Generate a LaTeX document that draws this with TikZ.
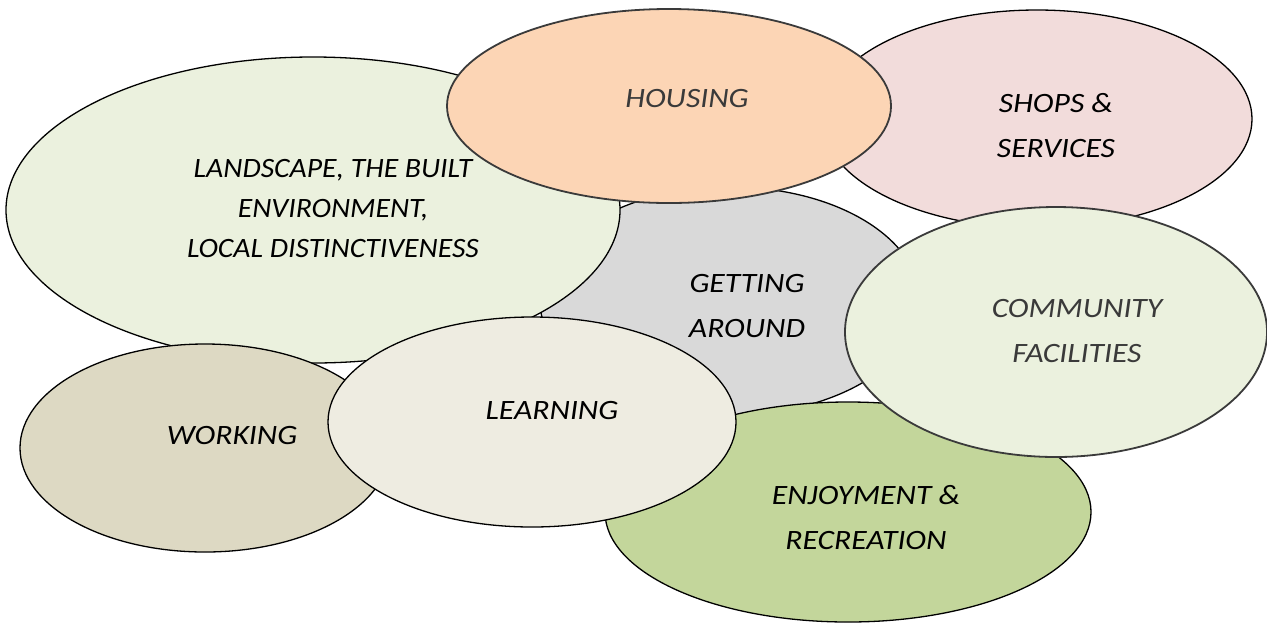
\documentclass[tikz,border=0pt]{standalone}
\usepackage{fontspec}
\setmainfont{Carlito}
\usetikzlibrary{shapes.geometric}
\definecolor{cLand}{HTML}{EBF1DE}
\definecolor{cHouse}{HTML}{FCD5B5}
\definecolor{cShop}{HTML}{F2DCDB}
\definecolor{cGet}{HTML}{D9D9D9}
\definecolor{cComm}{HTML}{EBF1DE}
\definecolor{cWork}{HTML}{DDD9C3}
\definecolor{cLearn}{HTML}{EEECE1}
\definecolor{cEnjoy}{HTML}{C3D69B}
\definecolor{cSoft}{HTML}{3A3A3A}
\newcommand\widetxt[1]{\scalebox{1.13}[1]{#1}}
\newcommand\widelnd[1]{\scalebox{1.06}[1]{#1}}
\tikzset{
  blob/.style={ellipse, draw=black, line width=0.65pt, inner sep=0pt, outer sep=0pt},
  softblob/.style={ellipse, draw=cSoft, line width=0.9pt, inner sep=0pt, outer sep=0pt},
  lbl/.style={align=center, inner sep=0pt, font=\fontsize{14}{22.5}\selectfont\itshape, text=black},
  softlbl/.style={lbl, text=cSoft},
}
\begin{document}
\begin{tikzpicture}[x=0.5pt, y=-0.5pt]
\useasboundingbox (0,0) rectangle (1267,622);
% ellipses, back to front (width in pt = rx, height in pt = ry since 1px = 0.5pt)
\node[blob, fill=cGet, minimum width=190pt, minimum height=114pt] (get) at (730,301) {};
\node[blob, fill=cLand, minimum width=307pt, minimum height=153pt] (land) at (313,210) {};
\node[blob, fill=cWork, minimum width=185pt, minimum height=104pt] (work) at (205,448) {};
\node[blob, fill=cEnjoy, minimum width=243pt, minimum height=110pt] (enjoy) at (848,512) {};
\node[blob, fill=cShop, minimum width=215pt, minimum height=109pt] (shop) at (1037,119) {};
\node[softblob, fill=cHouse, minimum width=222pt, minimum height=97pt] (house) at (669,106) {};
\node[blob, fill=cLearn, minimum width=204pt, minimum height=105pt] (learn) at (532,422) {};
\node[softblob, fill=cComm, minimum width=211pt, minimum height=125pt] (comm) at (1056,332) {};
% labels
\node[lbl, font=\fontsize{14}{20}\selectfont\itshape] (tland) at (333,209) {\widelnd{LANDSCAPE, THE BUILT}\\\widelnd{ENVIRONMENT,}\\\widelnd{LOCAL DISTINCTIVENESS}};
\node[softlbl] (thouse) at (687,99) {\widetxt{HOUSING}};
\node[lbl] (tshop) at (1056,126) {\widetxt{SHOPS \&}\\\widetxt{SERVICES}};
\node[lbl] (tget) at (747,306) {\widetxt{GETTING}\\\widetxt{AROUND}};
\node[softlbl] (tcomm) at (1077,331) {\widetxt{COMMUNITY}\\\widetxt{FACILITIES}};
\node[lbl] (twork) at (232,435) {\widetxt{WORKING}};
\node[lbl] (tlearn) at (552,410) {\widetxt{LEARNING}};
\node[lbl] (tenjoy) at (866,518) {\widetxt{ENJOYMENT \&}\\\widetxt{RECREATION}};
\end{tikzpicture}
\end{document}
